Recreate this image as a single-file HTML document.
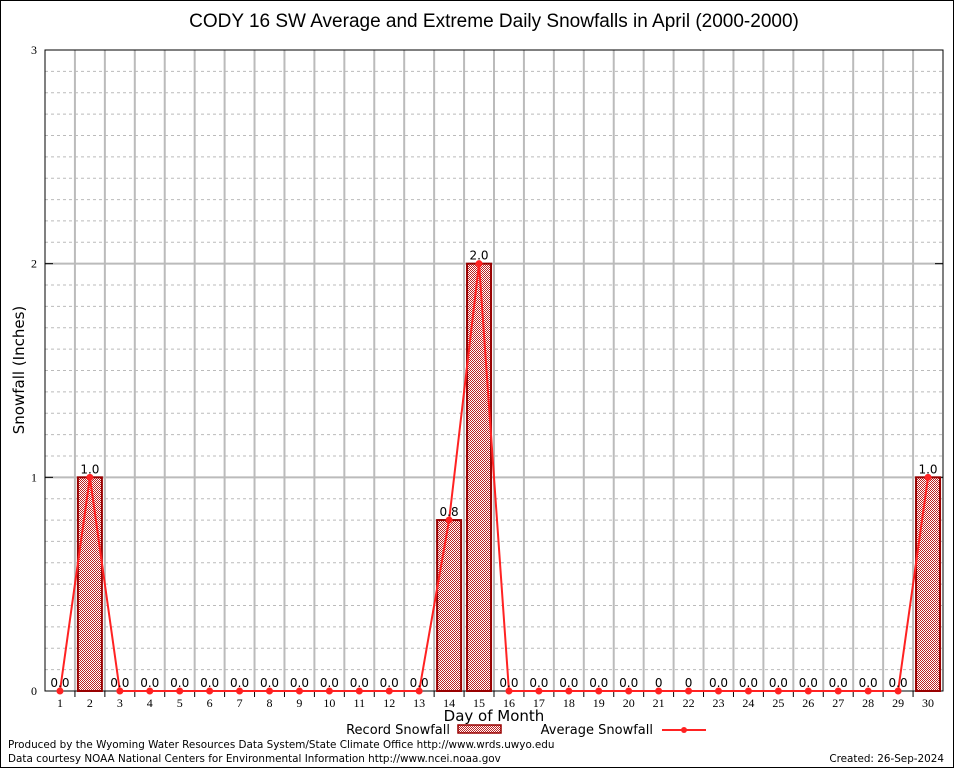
<!DOCTYPE html>
<html><head><meta charset="utf-8"><style>
body{margin:0;background:#fff;}
svg{display:block;font-family:"DejaVu Sans","Liberation Sans",sans-serif;}
</style></head><body>
<svg id="c" width="954" height="768">
<defs><pattern id="chk" width="2" height="2" patternUnits="userSpaceOnUse"><rect width="2" height="2" fill="#fff"/><rect width="1" height="1" fill="#b22"/><rect x="1" y="1" width="1" height="1" fill="#b22"/></pattern></defs>
<rect x="0.5" y="0.5" width="953" height="767" fill="#fff" stroke="#000"/>
<text x="494" y="27" font-size="19" text-anchor="middle" font-family="Liberation Sans, sans-serif">CODY 16 SW Average and Extreme Daily Snowfalls in April (2000-2000)</text>
<g id="grid"></g><g id="bars"></g><g id="line"></g><g id="labels"></g>
<text x="24" y="370" font-size="15" text-anchor="middle" transform="rotate(-90 24 370)">Snowfall (Inches)</text>
<text x="494" y="721" font-size="15" text-anchor="middle">Day of Month</text>
<g>
<text x="450" y="734" font-size="13" text-anchor="end">Record Snowfall</text>
<rect x="458" y="725" width="43" height="8" fill="url(#chk)" stroke="#900" stroke-width="1.5"/>
<text x="653" y="734" font-size="13" text-anchor="end">Average Snowfall</text>
<line x1="662" y1="730" x2="706" y2="730" stroke="#f22" stroke-width="2"/>
<circle cx="684" cy="730" r="3" fill="#f22"/>
</g>
<text x="8" y="748" font-size="10.4">Produced by the Wyoming Water Resources Data System/State Climate Office http://www.wrds.uwyo.edu</text>
<text x="8" y="762" font-size="10.4">Data courtesy NOAA National Centers for Environmental Information http://www.ncei.noaa.gov</text>
<text x="944" y="762" font-size="10.4" text-anchor="end">Created: 26-Sep-2024</text>
</svg>
<script>
const days=[1,2,3,4,5,6,7,8,9,10,11,12,13,14,15,16,17,18,19,20,21,22,23,24,25,26,27,28,29,30];
const record=[0,1,0,0,0,0,0,0,0,0,0,0,0,0.8,2,0,0,0,0,0,0,0,0,0,0,0,0,0,0,1];
const average=[0,1,0,0,0,0,0,0,0,0,0,0,0,0.8,2,0,0,0,0,0,0,0,0,0,0,0,0,0,0,1];
const valueLabels=["0.0","1.0","0.0","0.0","0.0","0.0","0.0","0.0","0.0","0.0","0.0","0.0","0.0","0.8","2.0","0.0","0.0","0.0","0.0","0.0","0","0","0.0","0.0","0.0","0.0","0.0","0.0","0.0","1.0"];
const yTicks=[0,1,2,3];
const NS="http://www.w3.org/2000/svg";
const L=45,R=943,T=50,B=691,yMax=3;
const step=(R-L)/30;
const X=d=>L+(d-0.5)*step;
const Y=v=>B-v/yMax*(B-T);
function mk(p,tag,a){const e=document.createElementNS(NS,tag);for(const k in a)e.setAttribute(k,a[k]);p.appendChild(e);return e;}
const g=document.getElementById('grid');
for(let i=1;i<30;i++){if(i%10===0)continue;const v=i/10;const l=mk(g,'line',{x1:L,x2:R,y1:Y(v),y2:Y(v),stroke:'#bbb','stroke-dasharray':'3,3','stroke-width':1});

}
for(let d=1;d<30;d++){const l=mk(g,'line',{x1:L+d*step,x2:L+d*step,y1:T,y2:B,stroke:'#bbb','stroke-width':2});


mk(g,'line',{x1:L+d*step,x2:L+d*step,y1:B,y2:B+6,stroke:'#000'});}
yTicks.forEach(v=>{if(v>0&&v<yMax){const l=mk(g,'line',{x1:L,x2:R,y1:Y(v),y2:Y(v),stroke:'#bbb','stroke-width':2});

}
mk(g,'line',{x1:L,x2:L+8,y1:Y(v),y2:Y(v),stroke:'#000'});mk(g,'line',{x1:R-8,x2:R,y1:Y(v),y2:Y(v),stroke:'#000'});
const t=mk(g,'text',{x:L-8,y:Y(v)+4,'font-size':12,'text-anchor':'end','font-family':'Liberation Serif, serif'});t.textContent=v;

});
const fr=mk(g,'rect',{x:L,y:T,width:R-L,height:B-T,fill:'none',stroke:'#000'});


days.forEach((d,i)=>{const t=mk(g,'text',{x:X(d),y:B+16,'font-size':12,'text-anchor':'middle','font-family':'Liberation Serif, serif'});t.textContent=d;

});
const bg=document.getElementById('bars');
days.forEach((d,i)=>{if(record[i]>0){const r=mk(bg,'rect',{x:X(d)-12,y:Y(record[i]),width:24,height:B-Y(record[i]),fill:'url(#chk)',stroke:'#900','stroke-width':2});

}});
const lg=document.getElementById('line');
const pl=mk(lg,'polyline',{points:days.map((d,i)=>X(d)+','+Y(average[i])).join(' '),fill:'none',stroke:'#f22','stroke-width':2});


days.forEach((d,i)=>{const c=mk(lg,'circle',{cx:X(d),cy:Y(average[i]),r:3.5,fill:'#f22'});

});
const tg=document.getElementById('labels');
days.forEach((d,i)=>{const t=mk(tg,'text',{x:X(d),y:Y(record[i])-4,'font-size':12,'text-anchor':'middle'});t.textContent=valueLabels[i];

});
</script>
</body></html>
